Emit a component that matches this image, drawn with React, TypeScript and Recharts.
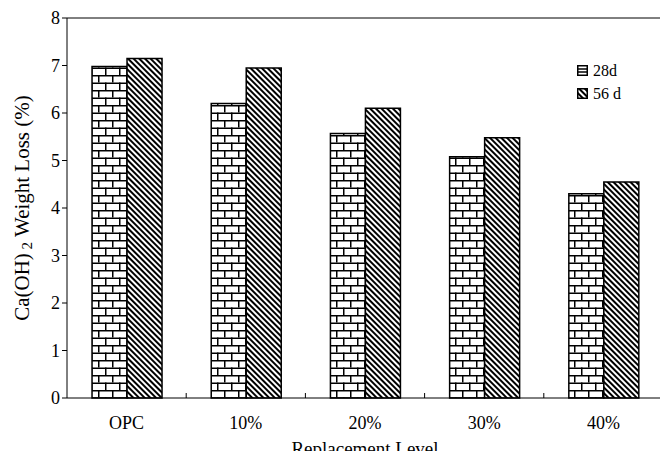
import { Bar, BarChart, XAxis, YAxis, CartesianGrid } from "recharts"

const categories = ["OPC", "10%", "20%", "30%", "40%"]
const loss28d = [6.98, 6.2, 5.57, 5.08, 4.3]
const loss56d = [7.15, 6.95, 6.1, 5.48, 4.55]
const yTicks = [0, 1, 2, 3, 4, 5, 6, 7, 8]

const FONT = "'Liberation Serif', 'Times New Roman', serif"

const chartData = categories.map((level, i) => ({
  level,
  d28: loss28d[i],
  d56: loss56d[i],
}))

// svg patterns shared by bars and legend
function Patterns() {
  return (
    <svg width={0} height={0} style={{ position: "absolute" }}>
      <defs>
        <pattern id="brick" width={14} height={15} patternUnits="userSpaceOnUse">
          <rect width={14} height={15} fill="#fff" />
          <line x1={0} y1={0.75} x2={14} y2={0.75} stroke="#000" strokeWidth={1.5} />
          <line x1={0} y1={8.25} x2={14} y2={8.25} stroke="#000" strokeWidth={1.5} />
          <line x1={0.75} y1={0} x2={0.75} y2={7.5} stroke="#000" strokeWidth={1.5} />
          <line x1={7.75} y1={7.5} x2={7.75} y2={15} stroke="#000" strokeWidth={1.5} />
        </pattern>
        <pattern id="hatch" width={4} height={4} patternUnits="userSpaceOnUse" patternTransform="rotate(-45)">
          <rect width={4} height={4} fill="#fff" />
          <line x1={1} y1={0} x2={1} y2={4} stroke="#000" strokeWidth={2} />
        </pattern>
      </defs>
    </svg>
  )
}

function CategoryTick({ x, y, payload, index, width, visibleTicksCount }: any) {
  const band = (width || 597) / (visibleTicksCount || 5)
  return (
    <g>
      {index > 0 && <line x1={x - band / 2} y1={y} x2={x - band / 2} y2={y - 5} stroke="#000" strokeWidth={1} />}
      <text x={x} y={y + 31} textAnchor="middle" fontFamily={FONT} fontSize={18} fill="#000">
        {payload.value}
      </text>
    </g>
  )
}

function LegendBox() {
  const items = [
    { label: "28d", pat: "brick" },
    { label: "56 d", pat: "hatch" },
  ]
  return (
    <div style={{ position: "absolute", left: 577, top: 59, fontFamily: FONT, fontSize: 16, color: "#000" }}>
      {items.map((it) => (
        <div key={it.label} style={{ display: "flex", alignItems: "center", height: 23 }}>
          <svg width={11} height={11} style={{ marginRight: 5 }}>
            {it.pat === "brick" ? (
              <g>
                <rect x={0.75} y={0.75} width={9.5} height={9.5} fill="#fff" stroke="#000" strokeWidth={1.5} />
                <line x1={0} y1={4} x2={11} y2={4} stroke="#000" strokeWidth={1.5} />
                <line x1={0} y1={7} x2={11} y2={7} stroke="#000" strokeWidth={1.5} />
              </g>
            ) : (
              <rect x={0.75} y={0.75} width={9.5} height={9.5} fill="url(#hatch)" stroke="#000" strokeWidth={1.5} />
            )}
          </svg>
          <span>{it.label}</span>
        </div>
      ))}
    </div>
  )
}

export default function App() {
  return (
    <div style={{ position: "relative", width: 668, height: 459, margin: -8, background: "#fff", overflow: "hidden" }}>
      <Patterns />
      <BarChart
        width={668}
        height={459}
        data={chartData}
        margin={{ top: 18, right: 5, left: 0, bottom: 0 }}
        barCategoryGap="21%"
        barGap={0}
      >
        {/* top and right frame lines */}
        <CartesianGrid
          stroke="#000"
          strokeWidth={1}
          horizontalCoordinatesGenerator={({ offset }: any) => [offset.top]}
          verticalCoordinatesGenerator={({ offset }: any) => [offset.left + offset.width]}
        />
        <XAxis
          dataKey="level"
          height={61}
          stroke="#000"
          tickLine={false}
          tickSize={0}
          tickMargin={0}
          interval={0}
          tick={<CategoryTick />}
          label={({ viewBox }: any) => (
            <text
              x={viewBox.x + viewBox.width / 2}
              y={455}
              textAnchor="middle"
              fontFamily={FONT}
              fontSize={19}
              fill="#000"
            >
              Replacement Level
            </text>
          )}
        />
        <YAxis
          width={67}
          domain={[0, 8]}
          ticks={yTicks}
          stroke="#000"
          tickSize={5}
          tick={{ fill: "#000", fontFamily: FONT, fontSize: 18 }}
          label={({ viewBox }: any) => {
            const cx = 22
            const cy = viewBox.y + viewBox.height / 2
            return (
              <text
                x={cx}
                y={cy}
                transform={`rotate(-90 ${cx} ${cy})`}
                textAnchor="middle"
                dominantBaseline="central"
                fontFamily={FONT}
                fontSize={21}
                fill="#000"
              >
                Ca(OH)
                <tspan fontSize={15} dy={5}> 2</tspan>
                <tspan dy={-5}> Weight Loss (%)</tspan>
              </text>
            )
          }}
        />
        <Bar dataKey="d28" name="28d" fill="url(#brick)" stroke="#000" strokeWidth={1.5} isAnimationActive={false} />
        <Bar dataKey="d56" name="56 d" fill="url(#hatch)" stroke="#000" strokeWidth={1.5} isAnimationActive={false} />
      </BarChart>
      <LegendBox />
    </div>
  )
}
